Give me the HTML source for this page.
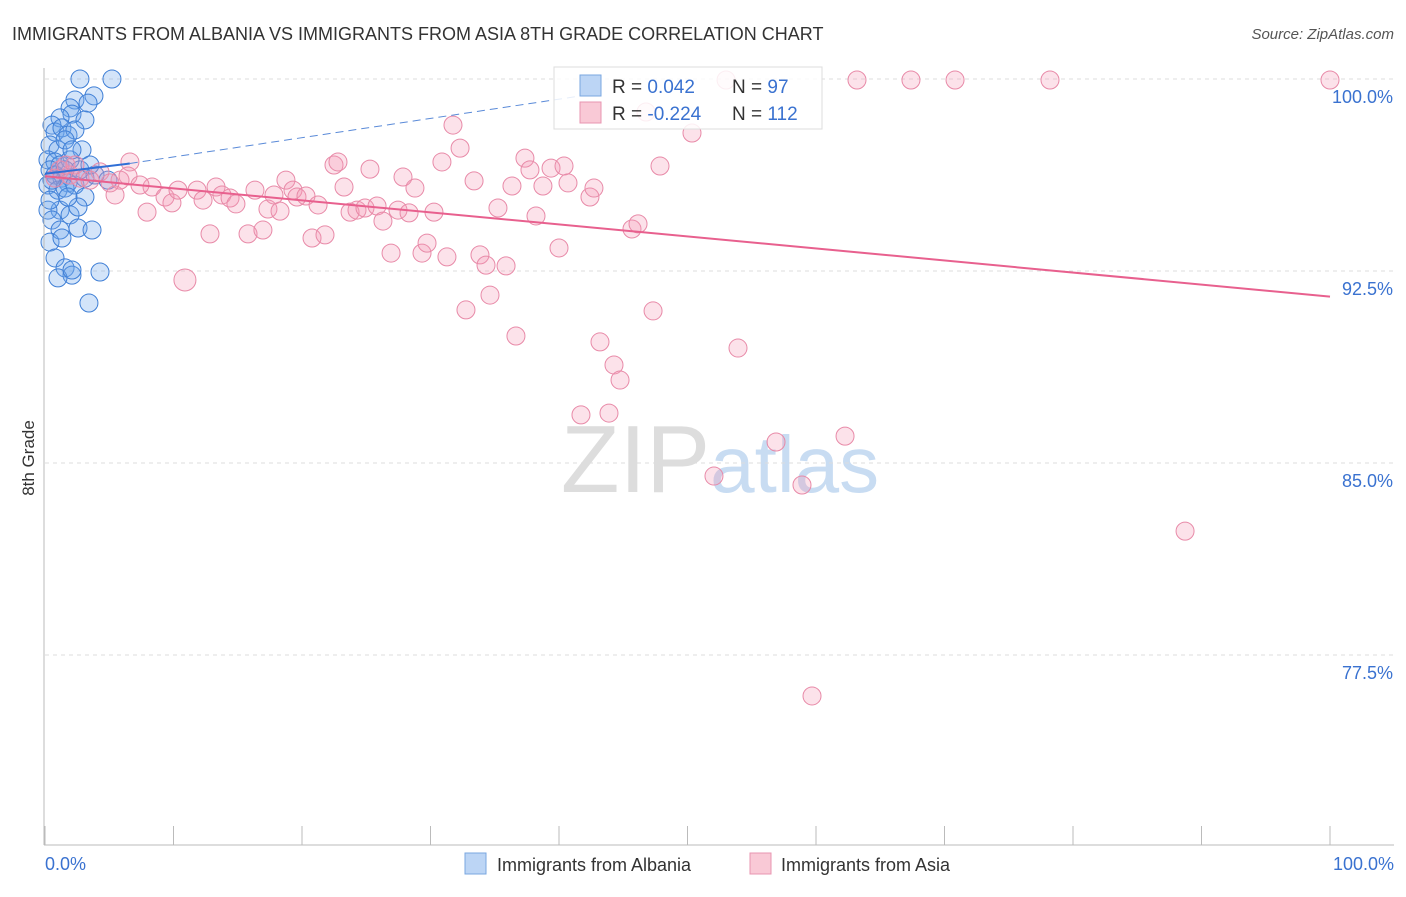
<!DOCTYPE html>
<html><head><meta charset="utf-8"><style>
body{margin:0;background:#fff;font-family:"Liberation Sans",sans-serif}
svg text{font-family:"Liberation Sans",sans-serif}
</style></head><body>
<svg width="1406" height="892">
<text x="12" y="40" font-size="18" fill="#333">IMMIGRANTS FROM ALBANIA VS IMMIGRANTS FROM ASIA 8TH GRADE CORRELATION CHART</text>
<text x="1394" y="39" font-size="15" fill="#555" font-style="italic" text-anchor="end">Source: ZipAtlas.com</text>
<text x="34" y="458" font-size="17" fill="#333" transform="rotate(-90 34 458)" text-anchor="middle">8th Grade</text>
<text x="720" y="492" font-size="96" fill="#ddd" text-anchor="middle" font-family="Liberation Serif">ZIP<tspan fill="#c8dcf2" font-family="Liberation Sans" font-size="80">atlas</tspan></text>
<g id="grid"></g><g id="pts"></g><g id="lines"></g>
<line x1="44" y1="68" x2="44" y2="845" stroke="#bbb"/>
<line x1="44" y1="845" x2="1394" y2="845" stroke="#bbb"/>
<text x="45" y="870" font-size="18" fill="#3a72d0">0.0%</text>
<text x="1394" y="870" font-size="18" fill="#3a72d0" text-anchor="end">100.0%</text>
<g>
<rect x="465" y="853" width="21" height="21" fill="#bcd5f5" stroke="#7aa7e0"/>
<text x="497" y="871" font-size="18" fill="#333">Immigrants from Albania</text>
<rect x="750" y="853" width="21" height="21" fill="#f9c9d6" stroke="#e895b0"/>
<text x="781" y="871" font-size="18" fill="#333">Immigrants from Asia</text>
</g>
<g>
<rect x="554" y="67" width="268" height="62" fill="#fff" fill-opacity="0.85" stroke="#ddd"/>
<rect x="580" y="75" width="21" height="21" fill="#bcd5f5" stroke="#7aa7e0"/>
<rect x="580" y="102" width="21" height="21" fill="#f9c9d6" stroke="#e895b0"/>
<text x="612" y="93" font-size="19" fill="#333">R = <tspan fill="#3a72d0"> 0.042</tspan>  <tspan x="732">N = </tspan><tspan fill="#3a72d0">  97</tspan></text>
<text x="612" y="120" font-size="19" fill="#333">R = <tspan fill="#3a72d0">-0.224</tspan>  <tspan x="732">N = </tspan><tspan fill="#3a72d0">112</tspan></text>
</g>
</svg>
<script>
const yTicks=[100,92.5,85,77.5];
const xTickCount=10;
// data in [x%, y%]
const pinkPx=[[130,162],[100,172],[115,195],[147,212],[152,187],[165,197],[172,203],[178,190],[185,280],[197,190],[203,200],[210,234],[216,187],[222,195],[230,198],[236,204],[248,234],[255,190],[263,230],[268,209],[274,195],[280,211],[286,180],[293,190],[297,197],[306,196],[312,238],[318,205],[325,235],[334,165],[338,162],[344,187],[350,212],[357,210],[365,208],[370,169],[377,206],[383,221],[391,253],[398,210],[403,177],[409,213],[415,188],[422,253],[427,243],[434,212],[442,162],[447,257],[453,125],[460,148],[466,310],[474,181],[480,255],[486,265],[490,295],[498,208],[506,266],[512,186],[516,336],[525,158],[530,170],[536,216],[543,186],[551,168],[559,248],[564,166],[568,183],[581,415],[590,197],[594,188],[600,342],[609,413],[614,365],[620,380],[632,229],[638,224],[646,112],[653,311],[660,166],[692,133],[714,476],[726,80],[738,348],[776,442],[802,485],[812,696],[845,436],[857,80],[911,80],[955,80],[1050,80],[1185,531],[1330,80],[70,175],[80,178],[60,170],[90,180],[120,180],[128,176],[110,183],[140,185],[66,165],[55,178],[75,165]];
const bluePx=[[80,79],[112,79],[94,96],[75,100],[88,103],[70,108],[72,114],[85,120],[60,118],[52,125],[55,132],[62,128],[68,135],[75,130],[50,145],[58,150],[65,140],[82,150],[48,160],[55,162],[60,165],[70,160],[50,170],[55,175],[62,178],[68,183],[48,185],[58,190],[65,188],[75,185],[85,178],[95,175],[108,180],[85,197],[60,210],[70,215],[78,207],[48,210],[52,220],[60,230],[78,228],[92,230],[50,242],[62,238],[55,258],[65,268],[72,275],[58,278],[72,270],[100,272],[89,303],[50,200],[68,197],[80,170],[90,165],[72,150],[65,170],[52,180]];
const pinkData=pinkPx.map(p=>[+((p[0]-45)/12.85).toFixed(2),+(100-(p[1]-79)/25.6).toFixed(2)]);
const blueData=bluePx.map(p=>[+((p[0]-45)/12.85).toFixed(2),+(100-(p[1]-79)/25.6).toFixed(2)]);
const blueTrend=[[0,96.3],[6.6,96.7],[42.5,99.4]];
const pinkTrend=[[0,96.2],[100,91.5]];
const X=v=>45+v*12.85, Y=v=>79+(100-v)*25.6;
const NS='http://www.w3.org/2000/svg';
function mk(t,a,parent){const e=document.createElementNS(NS,t);for(const k in a)e.setAttribute(k,a[k]);document.getElementById(parent).appendChild(e);return e;}
yTicks.forEach(t=>{
 const l=mk('line',{x1:45,x2:1394,y1:Y(t),y2:Y(t),stroke:'#ddd','stroke-dasharray':'4 4'},'grid');
 
 
 const tx=mk('text',{x:1393,y:Y(t)+24,'font-size':18,fill:'#3a72d0','text-anchor':'end'},'grid');
 tx.textContent=t.toFixed(1)+'%';
 
 
});
for(let i=0;i<=xTickCount;i++){
 const l=mk('line',{x1:X(i*10),x2:X(i*10),y1:826,y2:845,stroke:'#bbb'},'grid');
 
 
}
blueData.forEach(d=>{
 const c=mk('circle',{cx:X(d[0]),cy:Y(d[1]),r:9,fill:'rgba(110,165,235,0.3)',stroke:'#3f7fd6','stroke-width':1},'pts');
 
 
});
pinkData.forEach((d,i)=>{
 const c=mk('circle',{cx:X(d[0]),cy:Y(d[1]),r:(i==8?11:9),fill:'rgba(245,150,180,0.28)',stroke:'#e88aa8','stroke-width':1},'pts');
 
 
});
const b1=mk('line',{x1:X(blueTrend[0][0]),y1:Y(blueTrend[0][1]),x2:X(blueTrend[1][0]),y2:Y(blueTrend[1][1]),stroke:'#2f6fd6','stroke-width':2},'lines');


const b2=mk('line',{x1:X(blueTrend[1][0]),y1:Y(blueTrend[1][1]),x2:X(blueTrend[2][0]),y2:Y(blueTrend[2][1]),stroke:'#5a8ad8','stroke-width':1,'stroke-dasharray':'8 5'},'lines');


const p1=mk('line',{x1:X(pinkTrend[0][0]),y1:Y(pinkTrend[0][1]),x2:X(pinkTrend[1][0]),y2:Y(pinkTrend[1][1]),stroke:'#e8608e','stroke-width':2},'lines');


</script>
</body></html>
